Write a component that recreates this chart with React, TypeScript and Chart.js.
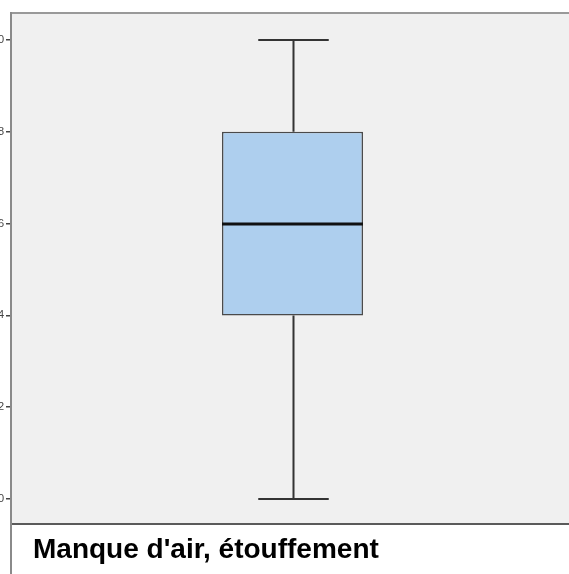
import React, { useEffect, useRef } from "react";
import { Chart, registerables } from "chart.js";

Chart.register(...registerables);

// Variable summarised by the box plot
const CATEGORIES = ["Manque d'air, étouffement"];
// Five-number summary
const MINIMUM = [0];
const Q1 = [4];
const MEDIAN = [6];
const Q3 = [8];
const MAXIMUM = [10];
// Y axis tick values
const Y_TICKS = [0, 2, 4, 6, 8, 10];

const boxExtras = {
  id: "boxExtras",
  beforeDraw(chart: any) {
    const { ctx, chartArea } = chart;
    ctx.save();
    ctx.fillStyle = "#f0f0f0";
    ctx.fillRect(chartArea.left, chartArea.top, chartArea.right - chartArea.left, chartArea.bottom - chartArea.top);
    ctx.restore();
  },
  afterDatasetsDraw(chart: any) {
    const { ctx } = chart;
    const y = chart.scales.y;
    const meta = chart.getDatasetMeta(0);
    meta.data.forEach((bar: any, i: number) => {
      const x = Math.round(bar.x) + 0.5;
      const half = bar.width / 2;
      const capHalf = half / 2;
      const yMin = Math.round(y.getPixelForValue(MINIMUM[i]));
      const yQ1 = y.getPixelForValue(Q1[i]);
      const yMed = Math.round(y.getPixelForValue(MEDIAN[i]));
      const yQ3 = y.getPixelForValue(Q3[i]);
      const yMax = Math.round(y.getPixelForValue(MAXIMUM[i]));
      ctx.save();
      ctx.strokeStyle = "#333333";
      ctx.lineWidth = 2;
      ctx.beginPath();
      ctx.moveTo(x, yQ3);
      ctx.lineTo(x, yMax);
      ctx.moveTo(x, yQ1);
      ctx.lineTo(x, yMin);
      ctx.moveTo(x - capHalf, yMax);
      ctx.lineTo(x + capHalf, yMax);
      ctx.moveTo(x - capHalf, yMin);
      ctx.lineTo(x + capHalf, yMin);
      ctx.stroke();
      ctx.strokeStyle = "#111111";
      ctx.lineWidth = 3;
      ctx.beginPath();
      ctx.moveTo(bar.x - half, yMed);
      ctx.lineTo(bar.x + half, yMed);
      ctx.stroke();
      ctx.restore();
    });
  },
  afterDraw(chart: any) {
    const { ctx, chartArea, height } = chart;
    ctx.save();
    ctx.lineWidth = 2;
    ctx.strokeStyle = "#999999";
    ctx.beginPath();
    ctx.moveTo(chartArea.left, chartArea.top - 1);
    ctx.lineTo(chartArea.right, chartArea.top - 1);
    ctx.stroke();
    ctx.strokeStyle = "#5a5a5a";
    ctx.beginPath();
    ctx.moveTo(chartArea.left, chartArea.bottom);
    ctx.lineTo(chartArea.right, chartArea.bottom);
    ctx.stroke();
    ctx.strokeStyle = "#8a8a8a";
    ctx.beginPath();
    ctx.moveTo(chartArea.left - 1, chartArea.top - 2);
    ctx.lineTo(chartArea.left - 1, height);
    ctx.stroke();
    ctx.restore();
  },
};

function BoxPlot() {
  const ref = useRef<HTMLCanvasElement>(null);
  useEffect(() => {
    if (!ref.current) return;
    const chart = new Chart(ref.current, {
      type: "bar",
      data: {
        labels: CATEGORIES,
        datasets: [
          {
            data: CATEGORIES.map((_, i) => [Q1[i], Q3[i]]) as any,
            backgroundColor: "#aecfee",
            borderColor: "#4a4a4a",
            borderWidth: 1.5,
            borderSkipped: false,
            categoryPercentage: 1,
            barPercentage: 0.2513,
          },
        ],
      },
      options: {
        responsive: false,
        animation: false,
        layout: { padding: { top: 14, bottom: 50, left: 0, right: 0 } },
        plugins: { legend: { display: false }, tooltip: { enabled: false }, title: { display: false } },
        scales: {
          x: { display: false },
          y: {
            min: -0.545,
            max: 10.566,
            afterBuildTicks(scale: any) {
              scale.ticks = Y_TICKS.map((v) => ({ value: v }));
            },
            afterFit(scale: any) {
              scale.width = 42;
            },
            border: { display: false },
            grid: { drawOnChartArea: false, tickLength: 6, color: "#444444", lineWidth: 1.5 },
            ticks: {
              padding: 2,
              color: "#444444",
              font: { family: "Arial, 'Liberation Sans'", size: 11 },
            },
          },
        },
      },
      plugins: [boxExtras],
    });
    return () => chart.destroy();
  }, []);
  return (
    <canvas
      ref={ref}
      width={603}
      height={574}
      style={{ position: "absolute", left: -30, top: 0, width: 603, height: 574 }}
    />
  );
}

export default function App() {
  return (
    <div style={{ position: "relative", width: 569, height: 574, overflow: "hidden", background: "#ffffff" }}>
      <style>{`html,body{margin:0;padding:0;overflow:hidden;background:#fff}`}</style>
      <BoxPlot />
      <div
        style={{
          position: "absolute",
          left: 33,
          top: 533,
          fontFamily: "Arial, 'Liberation Sans', sans-serif",
          fontWeight: "bold",
          fontSize: 28,
          lineHeight: "32px",
          color: "#000",
          whiteSpace: "nowrap",
        }}
      >
        {CATEGORIES[0]}
      </div>
    </div>
  );
}
